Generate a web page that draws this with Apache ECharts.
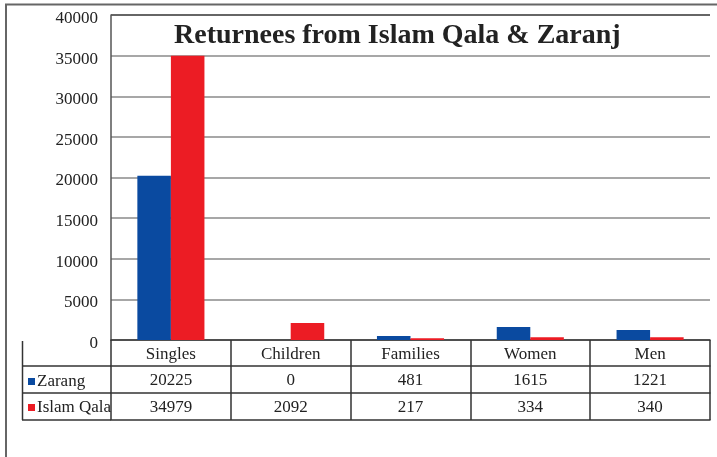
<!DOCTYPE html>
<html>
<head>
<meta charset="utf-8">
<script src="https://cdn.jsdelivr.net/npm/echarts@6/dist/echarts.min.js"></script>
<style>html,body{margin:0;padding:0;background:#fff}#c{width:717px;height:457px}</style>
</head>
<body>
<div id="c"></div>
<script>
var categories = ['Singles', 'Children', 'Families', 'Women', 'Men'];
var zarang = [20225, 0, 481, 1615, 1221];
var islamQala = [34979, 2092, 217, 334, 340];
var yTicks = [0, 5000, 10000, 15000, 20000, 25000, 30000, 35000, 40000];

var FONT = '"Liberation Serif", "Times New Roman", serif';
var chart = echarts.init(document.getElementById('c'), null, {renderer: 'canvas'});

function rowAxis(offset, values) {
  return {
    type: 'category', data: categories, position: 'bottom', offset: offset,
    gridIndex: 0,
    axisLine: {show: true, lineStyle: {color: '#333', width: 1.5}},
    axisTick: {show: false},
    axisLabel: values ? {
      show: true, margin: 6, interval: 0, color: '#222', fontFamily: FONT, fontSize: 17,
      formatter: function (v, i) { return String(values[i]); }
    } : {show: false},
    splitLine: {show: false}
  };
}

var option = {
  animation: false,
  backgroundColor: '#fff',
  title: {
    text: 'Returnees from Islam Qala & Zaranj',
    left: 174, top: 22, padding: 0,
    textStyle: {fontFamily: FONT, fontWeight: 'bold', fontSize: 28, color: '#222'}
  },
  legend: {
    orient: 'vertical', left: 28, top: 373, padding: 0, itemWidth: 7, itemHeight: 7, itemGap: 9,
    icon: 'rect',
    textStyle: {fontFamily: FONT, fontSize: 17, color: '#222', padding: [0, 0, 0, -3]},
    data: ['Zarang', 'Islam Qala']
  },
  grid: {left: 111, right: 7, top: 15, bottom: 117, containLabel: false},
  xAxis: [
    {
      type: 'category', data: categories, position: 'bottom', offset: 0,
      axisLine: {show: true, lineStyle: {color: '#333', width: 1.5}},
      axisTick: {show: true, length: 80, alignWithLabel: false, lineStyle: {color: '#333', width: 1.5}},
      axisLabel: {show: true, interval: 0, margin: 6, color: '#222', fontFamily: FONT, fontSize: 17},
      splitLine: {show: false}
    },
    rowAxis(26, zarang),
    rowAxis(53, islamQala),
    rowAxis(80, null)
  ],
  yAxis: {
    type: 'value', min: 0, max: 40000, interval: 5000,
    axisLine: {show: true, lineStyle: {color: '#555', width: 1.5}},
    axisTick: {show: false},
    axisLabel: {margin: 13, color: '#222', fontFamily: FONT, fontSize: 17,
      formatter: function (v) { return yTicks.indexOf(v) >= 0 ? '{t|' + v + '}' : ''; },
      rich: {t: {fontFamily: FONT, fontSize: 17, color: '#222', padding: [7, 0, 0, 0]}}},
    splitLine: {show: true, lineStyle: {width: 1.5, color: ['#8a8a8a', '#8a8a8a', '#8a8a8a', '#8a8a8a', '#8a8a8a', '#8a8a8a', '#8a8a8a', '#8a8a8a', '#333']}}
  },
  series: [
    {name: 'Zarang', type: 'bar', data: zarang, barGap: '0%', barCategoryGap: '44%',
      itemStyle: {color: '#0a4aa0'}},
    {name: 'Islam Qala', type: 'bar', data: islamQala, barGap: '0%', barCategoryGap: '44%',
      itemStyle: {color: '#ec1c24'}}
  ],
  graphic: [
    {type: 'line', shape: {x1: 5, y1: 4.5, x2: 717, y2: 4.5}, style: {stroke: '#666', lineWidth: 2}},
    {type: 'line', shape: {x1: 6, y1: 4, x2: 6, y2: 457}, style: {stroke: '#666', lineWidth: 2}},
    {type: 'line', shape: {x1: 22.5, y1: 341, x2: 22.5, y2: 420}, style: {stroke: '#333', lineWidth: 1.5}},
    {type: 'line', shape: {x1: 22, y1: 366, x2: 111, y2: 366}, style: {stroke: '#333', lineWidth: 1.5}},
    {type: 'line', shape: {x1: 22, y1: 393, x2: 111, y2: 393}, style: {stroke: '#333', lineWidth: 1.5}},
    {type: 'line', shape: {x1: 22, y1: 420, x2: 111, y2: 420}, style: {stroke: '#333', lineWidth: 1.5}}
  ]
};
chart.setOption(option);
</script>
</body>
</html>
